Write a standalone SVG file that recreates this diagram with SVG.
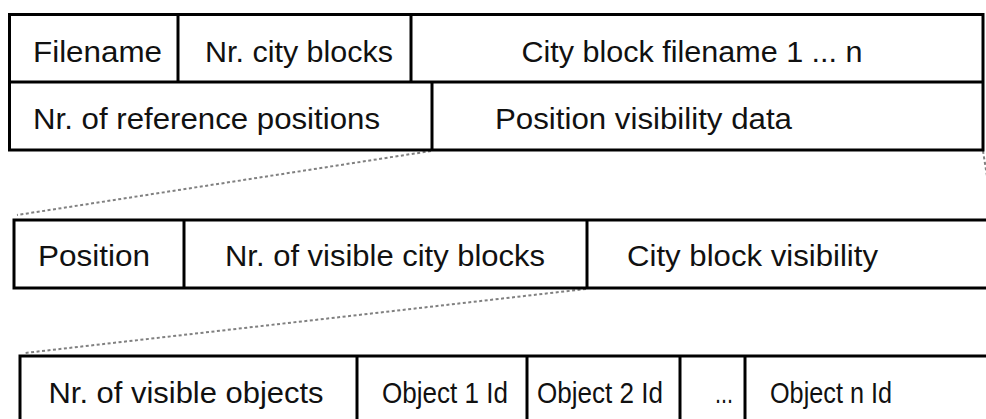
<svg xmlns="http://www.w3.org/2000/svg" width="986" height="419" viewBox="0 0 986 419">
<style>
.box{fill:#fff;stroke:#000;stroke-width:3}
.div{stroke:#000;stroke-width:3}
.t{font-family:"Liberation Sans",Arial,sans-serif;font-size:30px;fill:#111;text-anchor:middle}
.dot{stroke:#808080;stroke-width:2;stroke-dasharray:3 2.5;fill:none}
</style>
<rect width="986" height="419" fill="#fff"/>
<g id="connectors">
<line class="dot" x1="431" y1="151" x2="17" y2="215"/>
<line class="dot" x1="983" y1="151" x2="994" y2="220"/>
<line class="dot" x1="586" y1="289" x2="25" y2="353"/>
</g>
<g id="file-record">
<rect class="box" x="9.5" y="14.5" width="973.5" height="135.5"/>
<line class="div" x1="9.5" y1="82" x2="983" y2="82"/>
<line class="div" x1="178" y1="14.5" x2="178" y2="82"/>
<line class="div" x1="411" y1="14.5" x2="411" y2="82"/>
<line class="div" x1="432" y1="82" x2="432" y2="150"/>
<text class="t" x="97.5" y="62" textLength="129" lengthAdjust="spacingAndGlyphs">Filename</text>
<text class="t" x="299" y="62" textLength="188" lengthAdjust="spacingAndGlyphs">Nr. city blocks</text>
<text class="t" x="692" y="62" textLength="341" lengthAdjust="spacingAndGlyphs">City block filename 1 ... n</text>
<text class="t" x="206.5" y="129" textLength="347" lengthAdjust="spacingAndGlyphs">Nr. of reference positions</text>
<text class="t" x="643.5" y="129" textLength="297" lengthAdjust="spacingAndGlyphs">Position visibility data</text>
</g>
<g id="position-record">
<rect class="box" x="14" y="220" width="990" height="68"/>
<line class="div" x1="184" y1="220" x2="184" y2="288"/>
<line class="div" x1="587" y1="220" x2="587" y2="288"/>
<text class="t" x="94" y="266" textLength="112" lengthAdjust="spacingAndGlyphs">Position</text>
<text class="t" x="385" y="266" textLength="320" lengthAdjust="spacingAndGlyphs">Nr. of visible city blocks</text>
<text class="t" x="752.5" y="266" textLength="251" lengthAdjust="spacingAndGlyphs">City block visibility</text>
</g>
<g id="visibility-record">
<rect class="box" x="20" y="356" width="990" height="90"/>
<line class="div" x1="357" y1="356" x2="357" y2="446"/>
<line class="div" x1="527" y1="356" x2="527" y2="446"/>
<line class="div" x1="680" y1="356" x2="680" y2="446"/>
<line class="div" x1="745" y1="356" x2="745" y2="446"/>
<text class="t" x="186" y="403" textLength="275" lengthAdjust="spacingAndGlyphs">Nr. of visible objects</text>
<text class="t" x="445" y="403" textLength="126" lengthAdjust="spacingAndGlyphs">Object 1 Id</text>
<text class="t" x="600" y="403" textLength="126" lengthAdjust="spacingAndGlyphs">Object 2 Id</text>
<text class="t" x="724" y="403" textLength="18" lengthAdjust="spacingAndGlyphs">...</text>
<text class="t" x="831" y="403" textLength="122" lengthAdjust="spacingAndGlyphs">Object n Id</text>
</g>
</svg>
